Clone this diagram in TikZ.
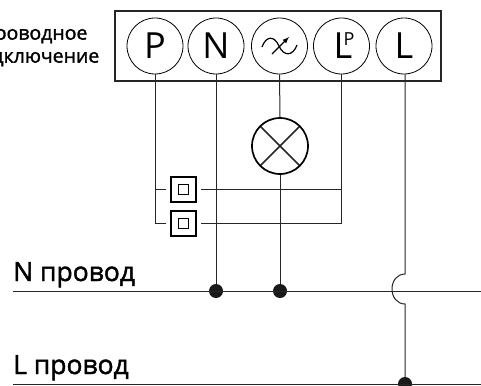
\documentclass[tikz,border=0pt]{standalone}
\usepackage{fontspec}
\setmainfont{Open Sans}
\newfontfamily\labelfont{Open Sans}[FakeBold=1.6]
\usetikzlibrary{arrows}

\tikzset{
  terminal/.style={draw,circle,minimum size=56pt,inner sep=0pt,line width=0.8pt,font=\fontsize{36}{36}\selectfont},
  wire/.style={line width=1pt,color=black!85},
  switchbox/.style={draw,line width=2pt,minimum size=25pt,inner sep=0pt,outer sep=5pt},
  switchcore/.style={draw,line width=0.8pt,minimum size=10pt,inner sep=0pt},
  junction/.style={circle,fill=black!90,minimum size=14pt,inner sep=0pt},
  wirelabel/.style={font=\labelfont\fontsize{26.5}{26.5}\selectfont,anchor=base west,inner sep=0pt},
}

\begin{document}
\begin{tikzpicture}[x=1pt,y=-1pt]
\useasboundingbox (0,0) rectangle (481,385);

% terminal block
\draw[line width=2pt,color=black!85] (115,11) rectangle (441,81);
\node[terminal] (P) at (155,46) {P};
\node[terminal] (N) at (216,46) {N};
\node[terminal] (W) at (279.5,46) {};
\node[terminal] (Lp) at (341.5,46) {};
\node[terminal] (L) at (404,46) {L};

% inside of the two drawn terminals
\draw[line width=1.2pt] (262,47) .. controls (266,36) and (274,35) .. (279,46) .. controls (284,57) and (293,56) .. (297,45);
\draw[-latex,line width=1.2pt] (272,54) -- (289,37);
\node[font=\fontsize{36}{36}\selectfont,inner sep=0pt] (LpL) at (343,46) {L};
\node[font=\fontsize{18}{18}\selectfont,inner sep=0pt] (LpP) at (349,39.5) {P};

\node[align=center,anchor=east,inner sep=0pt,font=\labelfont\fontsize{19.5}{23}\selectfont] (title) at (99.5,46) {Проводное\\подключение};

% lamp
\node[draw,circle,minimum size=56pt,inner sep=0pt,line width=1.7pt,path picture={
  \draw[line width=1.5pt,color=black!85] (path picture bounding box.north west) -- (path picture bounding box.south east);
  \draw[line width=1.5pt,color=black!85] (path picture bounding box.north east) -- (path picture bounding box.south west);
}] (lamp) at (280,146) {};

% switches
\node[switchbox] (sw1) at (183,189) {};
\node[switchcore] (core1) at (183,189) {};
\node[switchbox] (sw2) at (183,223) {};
\node[switchcore] (core2) at (183,223) {};

% buses
\coordinate (nleft) at (13,291);
\coordinate (nright) at (481,291);
\coordinate (lleft) at (13,384);
\coordinate (lright) at (481,384);
\node[junction] (j1) at (N |- nleft) {};
\node[junction] (j2) at (lamp |- nleft) {};
\node[junction] (j3) at (405,384) {};
\coordinate (jumptop) at (405,274);
\coordinate (jumpbot) at (405,304);

\draw[wire] (nleft) -- (nright);
\draw[wire] (lleft) -- (lright);

\draw[wire] (P.south) |- (sw1.west);
\draw[wire] (P.south) |- (sw2.west);
\draw[wire] (N.south) -- (j1);
\draw[wire] (W.south) -- (lamp.north);
\draw[wire] (lamp.south) -- (j2);
\draw[wire] (Lp.south) |- (sw2.east);
\draw[wire] (Lp.south |- sw1.east) -- (sw1.east);
\draw[wire] (L.south -| jumptop) -- (jumptop) .. controls (397,274) and (392,281) .. (392,289) .. controls (392,297) and (397,304) .. (jumpbot) -- (j3);

\node[wirelabel] (nlabel) at (13,281) {N провод};
\node[wirelabel] (llabel) at (13,374) {L провод};
\end{tikzpicture}
\end{document}
